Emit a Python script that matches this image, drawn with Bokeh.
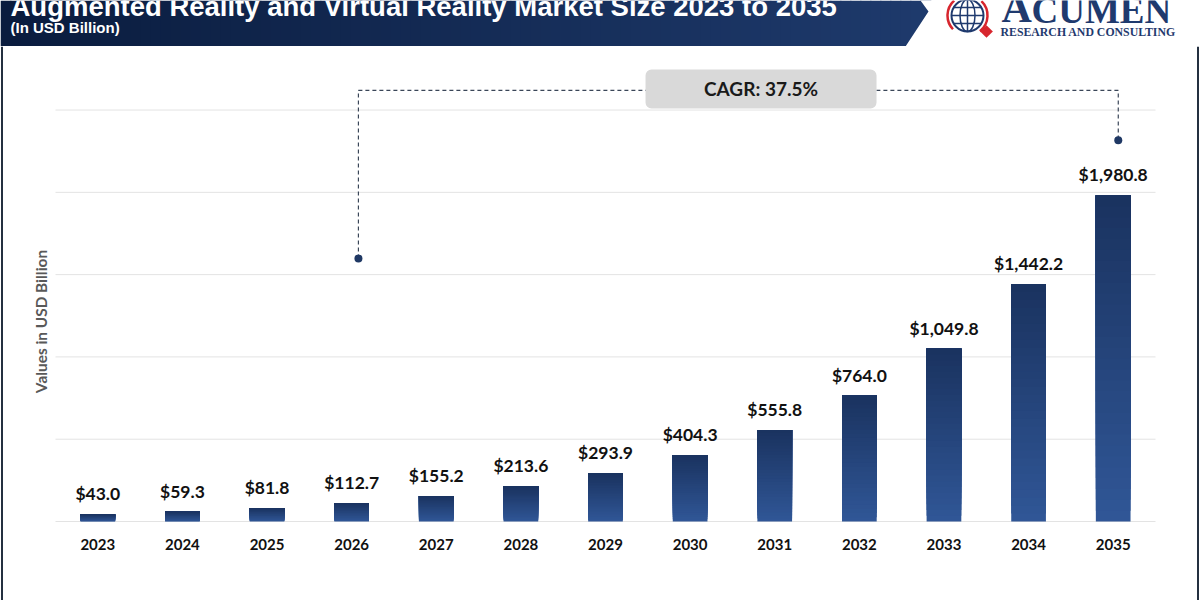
import numpy as np
from bokeh.plotting import figure
from bokeh.models import (Range1d, LabelSet, Label, BoxAnnotation, ColumnDataSource, Span)
from bokeh.layouts import column
from bokeh.core.properties import value
from bokeh.embed import file_html
from bokeh.resources import INLINE

# ---- data -------------------------------------------------------------
years = ["2023", "2024", "2025", "2026", "2027", "2028", "2029",
         "2030", "2031", "2032", "2033", "2034", "2035"]
market_size = [43.0, 59.3, 81.8, 112.7, 155.2, 213.6, 293.9,
               404.3, 555.8, 764.0, 1049.8, 1442.2, 1980.8]
value_labels = ["$" + f"{v:,.1f}" for v in market_size]
y_ticks = [0, 500, 1000, 1500, 2000, 2500]

title_text = "Augmented Reality and Virtual Reality Market Size 2023 to 2035"
subtitle_text = "(In USD Billion)"
y_title = "Values in USD Billion"
cagr_text = "CAGR: 37.5%"
cagr_from, cagr_to = "2026", "2035"

NAVY = "#1f3a6e"
EDGE = "#243040"
FONT = "Lato"


def mix(c0, c1, t):
    return "#%02x%02x%02x" % tuple(int(round(a + (b - a) * t)) for a, b in zip(c0, c1))


# ---- header band --------------------------------------------------------
hdr = figure(width=1200, height=46, x_range=Range1d(0, 1200), y_range=Range1d(46, 0),
             toolbar_location=None, output_backend="svg", min_border=0,
             x_axis_type=None, y_axis_type=None, outline_line_color=None)
hdr.grid.visible = False
hdr.background_fill_color = "white"
hdr.border_fill_color = "white"

n_strips = 93
edges = np.linspace(0, 930, n_strips + 1)
strip_cols = [mix((10, 28, 62), (30, 58, 108), t) for t in np.linspace(0, 1, n_strips)]
hdr.quad(left=edges[:-1], right=edges[1:] + 0.8, top=0, bottom=46,
         fill_color=strip_cols, line_color=None)
# chevron-shaped right edge of the band
hdr.patch([920, 940, 940, 905, 928], [0, 0, 46, 46, 11], fill_color="white", line_color=None)

hdr.text(x=[10], y=[6], text=[title_text], text_color="white",
         text_font=value("Liberation Sans"), text_font_style="bold",
         text_font_size="27.5px", text_baseline="alphabetic")
hdr.text(x=[10], y=[26.5], text=[subtitle_text], text_color="white",
         text_font=value("Liberation Sans"), text_font_style="bold",
         text_font_size="15px", text_baseline="alphabetic")

# logo: globe, arrows, diamond and wordmark
gx, gy = 967, 15
hdr.arc(x=gx, y=gy, radius=20, start_angle=2.3, end_angle=3.9,
        line_color="#d7262e", line_width=2.5)
hdr.arc(x=gx, y=gy, radius=20, start_angle=-0.9, end_angle=0.8,
        line_color="#d7262e", line_width=2.5)
hdr.circle(x=[gx], y=[gy], radius=16, fill_color="white", line_color=NAVY, line_width=2)
hdr.ellipse(x=[gx], y=[gy], width=15, height=32, fill_color=None, line_color=NAVY, line_width=1.5)
hdr.segment(x0=[gx, gx - 14, gx - 16, gx - 14], y0=[gy - 16, gy - 8, gy, gy + 8],
            x1=[gx, gx + 14, gx + 16, gx + 14], y1=[gy + 16, gy - 8, gy, gy + 8],
            line_color=NAVY, line_width=1.5)
hdr.scatter(x=[986], y=[31], marker="square", angle=np.pi / 4, size=9,
            fill_color="#d7262e", line_color=None)
hdr.text(x=[1001], y=[7], text=["A"], text_color=NAVY, text_font=value("Liberation Serif"),
         text_font_style="bold", text_font_size="42px", text_baseline="alphabetic")
hdr.text(x=[1031], y=[10], text=["CUMEN"], text_color=NAVY, text_font=value("Liberation Serif"),
         text_font_style="bold", text_font_size="37px", text_baseline="alphabetic")
hdr.text(x=[1000], y=[31.5], text=["RESEARCH AND CONSULTING"], text_color=NAVY,
         text_font=value("Liberation Serif"), text_font_style="bold",
         text_font_size="11.8px", text_baseline="alphabetic")

# ---- bar chart ---------------------------------------------------------
# The plotting frame fills the whole panel; one category slot is 84.6 px wide
# and 1 billion USD is 0.1646 px tall, with the category band starting at x=55.
slot_px, unit_px = 1100 / len(years), 0.16458
x_pos = [i + 0.5 for i in range(len(years))]
p = figure(x_range=Range1d(-55 / slot_px, len(years) + 45 / slot_px),
           y_range=Range1d(-79 / unit_px, 475 / unit_px),
           width=1200, height=554, toolbar_location=None, output_backend="svg",
           min_border=0, x_axis_type=None, y_axis_type=None, outline_line_color=None)
p.grid.visible = False
p.background_fill_color = "white"
p.border_fill_color = "white"

# horizontal gridlines across the category band
p.segment(x0=0, x1=len(years), y0=y_ticks, y1=y_ticks, line_color="#e3e3e3", line_width=1)

# vertical gradient: nested bars, each starting higher and darker
n_steps = 30
for k in range(n_steps):
    col = mix((48, 86, 150), (26, 51, 96), k / (n_steps - 1))
    p.vbar(x=x_pos, bottom=[v * k / n_steps for v in market_size], top=market_size,
           width=0.41, fill_color=col, line_color=None)

src = ColumnDataSource(dict(x=x_pos, top=market_size, label=value_labels,
                            year=years, zero=[0] * len(years)))
p.add_layout(LabelSet(x="x", y="top", text="label", source=src, text_align="center",
                      text_baseline="bottom", y_offset=10, text_font=value(FONT),
                      text_font_style="bold", text_font_size="17.5px", text_color="#111111"))
# category labels under the baseline
p.add_layout(LabelSet(x="x", y="zero", text="year", source=src, text_align="center",
                      text_baseline="top", y_offset=-17, text_font=value(FONT),
                      text_font_style="bold", text_font_size="15px", text_color="#111111"))

# CAGR callout
i0 = years.index(cagr_from) + 0.5 + 0.08
i1 = years.index(cagr_to) + 0.5 + 0.06
y_left, y_top, y_right = 1598, 2619, market_size[-1] + 335
p.line(x=[i0, i0, i1, i1], y=[y_left, y_top, y_top, y_right],
       line_color="#3a4658", line_width=1.2, line_dash="4 3")
p.scatter(x=[i0, i1], y=[y_left, y_right], size=8, fill_color="#1f3864", line_color=None)
p.add_layout(BoxAnnotation(left=6.973, right=9.703, bottom=2509, top=2746,
                           fill_color="#d9d9d9", fill_alpha=1, line_color=None,
                           border_radius=6))
p.add_layout(Label(x=8.338, y=2630, text=cagr_text, text_align="center",
                   text_baseline="middle", text_font=FONT, text_font_style="bold",
                   text_font_size="19px", text_color="#1a1a1a"))

# vertical axis title
p.add_layout(Label(x=-15 / slot_px, y=1215, text=y_title, angle=np.pi / 2,
                   text_align="center", text_baseline="middle", text_font=FONT,
                   text_font_style="bold", text_font_size="15.4px", text_color="#595959"))

# side rules of the panel
p.add_layout(Span(location=-53.5 / slot_px, dimension="height", line_color=EDGE, line_width=2))
p.add_layout(Span(location=(1142.5) / slot_px, dimension="height", line_color=EDGE, line_width=2))

layout = column(hdr, p, spacing=0)

open("out.html", "w").write(file_html(layout, INLINE))
